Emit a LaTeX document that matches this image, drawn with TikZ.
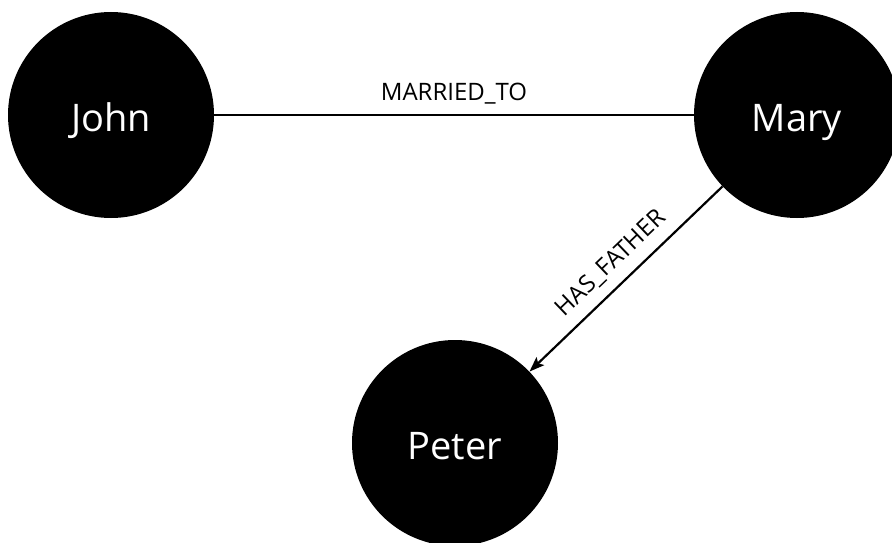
\documentclass[tikz,border=0pt]{standalone}
\usepackage{fontspec}
\setmainfont{Open Sans}
\usetikzlibrary{arrows.meta}

\tikzset{
  person/.style={circle, fill=black, draw=none, minimum size=206pt, inner sep=0pt,
    text=white, font=\fontsize{38}{42}\selectfont,
    text height=34pt, text depth=2pt},
  rel/.style={line width=2.2pt, black},
  rellabel/.style={font=\fontsize{24}{28}\selectfont, inner sep=0pt, text=black},
  relarrow/.style={-{Stealth[length=15pt,width=11pt,inset=3pt]}}
}

\begin{document}
\begin{tikzpicture}[x=1pt, y=-1pt]
  \useasboundingbox (0,0) rectangle (892,543);
  \clip (0,0) rectangle (892,543);

  \node[person] (john)  at (111,115) {John};
  \node[person] (mary)  at (797,115) {Mary};
  \node[person] (peter) at (455,443) {Peter};

  \draw[rel] (john) -- node[rellabel, midway, above=10pt] {MARRIED\_TO} (mary);
  \draw[rel, relarrow] (mary) -- node[rellabel, midway, sloped, above=10pt] {HAS\_FATHER} (peter);
\end{tikzpicture}
\end{document}
